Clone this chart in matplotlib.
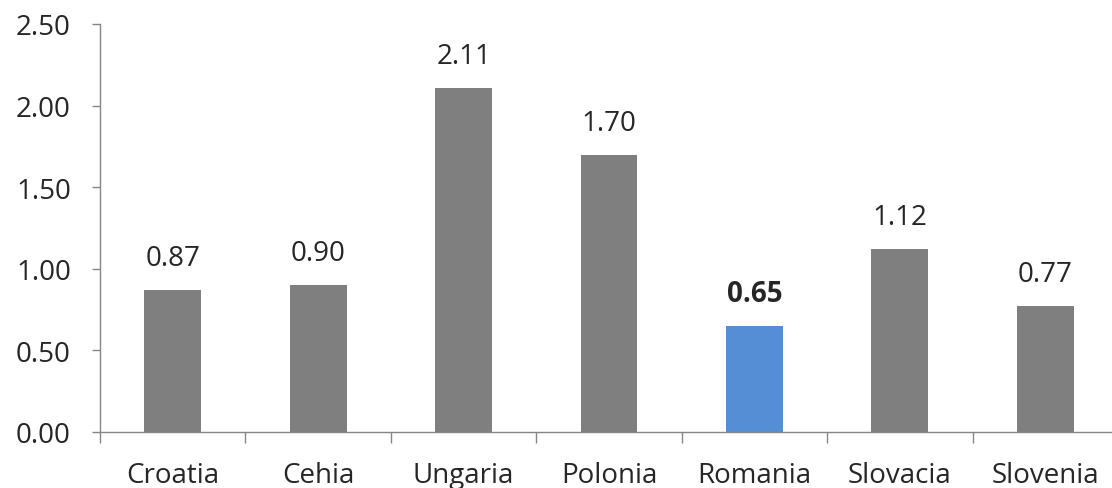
import matplotlib
matplotlib.use("Agg")
import matplotlib.pyplot as plt
from matplotlib.ticker import FixedLocator, MultipleLocator, FormatStrFormatter

categories = ["Croatia", "Cehia", "Ungaria", "Polonia", "Romania", "Slovacia", "Slovenia"]
values = [0.87, 0.90, 2.11, 1.70, 0.65, 1.12, 0.77]
highlight = "Romania"

gray = "#7f7f7f"
blue = "#558ed5"
axis_color = "#868686"
text_color = "#262626"

plt.rcParams['font.family'] = ['Open Sans', 'DejaVu Sans']

fig = plt.figure(figsize=(11.12, 4.89), dpi=100)
ax = fig.add_axes([100/1112, 56/489, 1018/1112, (433-25)/489])

x = list(range(len(categories)))
colors = [blue if c == highlight else gray for c in categories]
ax.bar(x, values, width=0.39, color=colors, zorder=2)

for xi, v, c in zip(x, values, categories):
    ax.annotate(f"{v:.2f}", (xi, v), xytext=(0, 18), textcoords="offset points",
                ha="center", va="baseline", fontsize=20, color=text_color,
                fontweight="bold" if c == highlight else "normal")

ax.set_xlim(-0.5, len(categories) - 0.5)
ax.set_ylim(0, 2.5)
ax.yaxis.set_major_locator(MultipleLocator(0.5))
ax.yaxis.set_major_formatter(FormatStrFormatter("%.2f"))

ax.set_xticks(x)
ax.set_xticklabels(categories)
ax.xaxis.set_minor_locator(FixedLocator([i - 0.5 for i in range(len(categories) + 1)]))
ax.tick_params(axis="x", which="major", length=0, pad=21, labelsize=20, labelcolor=text_color)
ax.tick_params(axis="x", which="minor", length=8, width=1, color=axis_color, direction="out")
ax.tick_params(axis="y", which="major", length=6, width=1, color=axis_color, direction="out",
               pad=15, labelsize=20, labelcolor=text_color)

for s in ["top", "right"]:
    ax.spines[s].set_visible(False)
for s in ["left", "bottom"]:
    ax.spines[s].set_color(axis_color)
    ax.spines[s].set_linewidth(1)

fig.savefig("out.png", dpi=100)
